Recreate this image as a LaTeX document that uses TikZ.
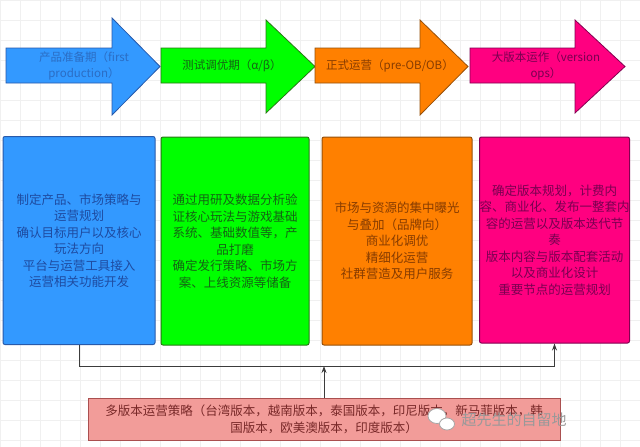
\documentclass[tikz,border=0pt]{standalone}
\usepackage{fontspec}
\setmainfont{Noto Sans CJK SC}
\usetikzlibrary{arrows.meta}
\definecolor{bF}{RGB}{51,153,255}\definecolor{bD}{RGB}{40,90,170}\definecolor{bT}{RGB}{30,75,160}
\definecolor{gF}{RGB}{0,255,0}\definecolor{gD}{RGB}{40,120,20}\definecolor{gT}{RGB}{20,100,20}
\definecolor{oF}{RGB}{255,128,0}\definecolor{oD}{RGB}{150,80,10}\definecolor{oT}{RGB}{135,60,0}
\definecolor{pF}{RGB}{255,0,128}\definecolor{pD}{RGB}{130,0,80}\definecolor{pT}{RGB}{120,0,80}
\definecolor{mF}{RGB}{242,156,153}\definecolor{mD}{RGB}{170,80,80}\definecolor{mT}{RGB}{120,40,40}
\definecolor{lineC}{RGB}{60,60,60}
\tikzset{
  bigbox/.style={rounded corners=2pt,line width=1pt,minimum height=208pt,font=\fontsize{12.5}{16.5}\selectfont,align=center,inner sep=0pt},
  arrtext/.style={font=\fontsize{11.5}{16}\selectfont,align=center,inner sep=0pt},
  conn/.style={draw=lineC,line width=1pt},
}
\begin{document}
\begin{tikzpicture}[x=1pt,y=-1pt]
\useasboundingbox (0,0) rectangle (640,447);
\fill[white] (0,0) rectangle (640,447);
\draw[gray!12,step=20pt] (0,0) grid (640,447);
% arrows
\draw[fill=bF,draw=bD,line width=0.8pt] (6,48) -- (112,48) -- (112,18) -- (160,66.5) -- (112,115) -- (112,83) -- (6,83) -- cycle;
\draw[fill=gF,draw=gD,line width=0.8pt] (161,48) -- (266,48) -- (266,20) -- (315,66.5) -- (266,113) -- (266,83) -- (161,83) -- cycle;
\draw[fill=oF,draw=oD,line width=0.8pt] (315,48) -- (420,48) -- (420,20) -- (468,66.5) -- (420,115) -- (420,83) -- (315,83) -- cycle;
\draw[fill=pF,draw=pD,line width=0.8pt] (470,48) -- (575,48) -- (575,20) -- (625,66.5) -- (575,113) -- (575,83) -- (470,83) -- cycle;
\node[arrtext,text=bD!70!bF] (a1) at (84,66) {产品准备期（first\\production）};
\node[arrtext,text=gT] (a2) at (232,66) {测试调优期（α/β）};
\node[arrtext,text=oT] (a3) at (390,66) {正式运营（pre-OB/OB）};
\node[arrtext,text=pT] (a4) at (546,66) {大版本运作（version\\ops）};
% boxes
\node[bigbox,fill=bF,draw=bD,minimum width=152pt,text=bT] (blue) at (79,240.5)
 {制定产品、市场策略与\\运营规划\\确认目标用户以及核心\\玩法方向\\平台与运营工具接入\\运营相关功能开发};
\node[bigbox,fill=gF,draw=gD,minimum width=148pt,text=gT] (green) at (235,241)
 {通过用研及数据分析验\\证核心玩法与游戏基础\\系统、基础数值等，产\\品打磨\\确定发行策略、市场方\\案、上线资源等储备};
\node[bigbox,fill=oF,draw=oD,minimum width=150pt,text=oT] (orange) at (397,241)
 {市场与资源的集中曝光\\与叠加（品牌向）\\商业化调优\\精细化运营\\社群营造及用户服务};
\node[bigbox,fill=pF,draw=pD,minimum width=149pt,minimum height=206pt,text=pT] (pink) at (554.5,240)
 {确定版本规划，计费内\\容、商业化、发布一整套内\\容的运营以及版本迭代节\\奏\\版本内容与版本配套活动\\以及商业化设计\\重要节点的运营规划};
% bottom box
\node[fill=mF,draw=mD,line width=1pt,minimum width=472pt,minimum height=42pt,inner sep=0pt,align=center,
  font=\fontsize{12.5}{17}\selectfont,text=mT] (multi) at (324,419)
 {多版本运营策略（台湾版本，越南版本，泰国版本，印尼版本，新马菲版本，韩\\国版本，欧美澳版本，印度版本）};
% connectors
\coordinate (bar) at (324,366);
\draw[conn,-{Stealth[length=7pt,width=5pt]}] (blue.south) |- (bar -| pink.south) -- (pink.south);
\draw[conn,-{Stealth[length=7pt,width=5pt]}] (multi.north) -- (bar);
% watermark
\begin{scope}[line width=0.8pt]
\draw[fill=white,draw=gray!70] (437,416) ellipse (9pt and 7.5pt);
\draw[fill=white,draw=gray!70] (447,424) ellipse (7.5pt and 6pt);
\end{scope}
\node[font=\fontsize{15}{15}\selectfont,text=gray!80,inner sep=0pt] (wm) at (514,420) {超先生的自留地};
\end{tikzpicture}
\end{document}
